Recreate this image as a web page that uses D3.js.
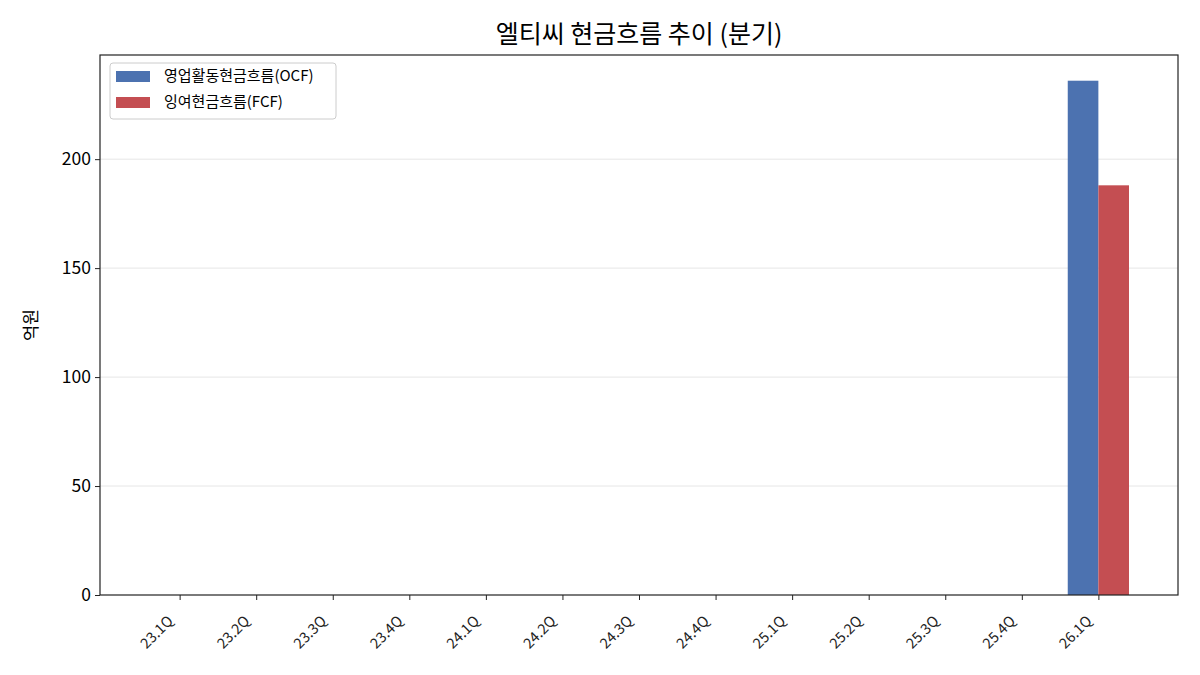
<!DOCTYPE html>
<html>
<head>
<meta charset="utf-8">
<script src="https://cdn.jsdelivr.net/npm/d3@7"></script>
<style>
  body { margin: 0; background: #fff; }
  text { font-family: "Noto Sans CJK KR", "Noto Sans", sans-serif; }
</style>
</head>
<body>
<svg id="chart" width="1200" height="675"></svg>
<script>
// quarters and cash flows (억원)
var quarters = ["23.1Q","23.2Q","23.3Q","23.4Q","24.1Q","24.2Q","24.3Q","24.4Q","25.1Q","25.2Q","25.3Q","25.4Q","26.1Q"];
var ocf = [0,0,0,0,0,0,0,0,0,0,0,0,236];
var fcf = [0,0,0,0,0,0,0,0,0,0,0,0,188];
var yTicks = [0, 50, 100, 150, 200];
var seriesNames = ["영업활동현금흐름(OCF)", "잉여현금흐름(FCF)"];
var colors = ["#4C72B0", "#C44E52"];

var svg = d3.select("#chart");
var m = {left: 100, right: 1178, top: 55, bottom: 595};

// category index scale, matplotlib-like padding
var x = d3.scaleLinear().domain([-1.04, quarters.length - 1 + 1.04]).range([m.left, m.right]);
var bw = x(0.4) - x(0);
var y = d3.scaleLinear().domain([0, 236 * 1.05]).range([m.bottom, m.top]);

// grid
svg.append("g").selectAll("line").data(yTicks.filter(function(d){ return d > 0; }))
  .enter().append("line")
  .attr("x1", m.left).attr("x2", m.right)
  .attr("y1", function(d){ return y(d); }).attr("y2", function(d){ return y(d); })
  .attr("stroke", "#e6e6e6").attr("stroke-width", 1);

// bars
var g = svg.append("g");
g.selectAll(".ocf").data(ocf).enter().append("rect")
  .attr("x", function(d, i){ return x(i - 0.4); })
  .attr("width", bw)
  .attr("y", function(d){ return y(d); })
  .attr("height", function(d){ return y(0) - y(d); })
  .attr("fill", colors[0]);
g.selectAll(".fcf").data(fcf).enter().append("rect")
  .attr("x", function(d, i){ return x(i); })
  .attr("width", bw)
  .attr("y", function(d){ return y(d); })
  .attr("height", function(d){ return y(0) - y(d); })
  .attr("fill", colors[1]);

// axes
var yAxis = svg.append("g").attr("transform", "translate(" + m.left + ",0)")
  .call(d3.axisLeft(y).tickValues(yTicks).tickSize(5).tickPadding(4));
yAxis.selectAll("text").style("font-size", "17.5px").attr("fill", "#000");
yAxis.selectAll("line").attr("stroke", "#222");
yAxis.select(".domain").remove();

var xAxis = svg.append("g").attr("transform", "translate(0," + m.bottom + ")")
  .call(d3.axisBottom(x).tickValues(d3.range(quarters.length)).tickFormat(function(i){ return quarters[i]; }).tickSize(5));
xAxis.select(".domain").remove();
xAxis.selectAll("line").attr("stroke", "#222");
xAxis.selectAll("text")
  .style("font-size", "14.5px")
  .attr("fill", "#222")
  .attr("text-anchor", "end")
  .attr("dy", null)
  .attr("y", 0)
  .attr("transform", "translate(-6,27) rotate(-45)");

// frame
svg.append("rect").attr("x", m.left).attr("y", m.top)
  .attr("width", m.right - m.left).attr("height", m.bottom - m.top)
  .attr("fill", "none").attr("stroke", "#222").attr("stroke-width", 1.2);

// title & y label
svg.append("text").attr("x", (m.left + m.right) / 2).attr("y", 43)
  .attr("text-anchor", "middle").style("font-size", "25px").text("엘티씨 현금흐름 추이 (분기)");
svg.append("text").attr("transform", "translate(37," + ((m.top + m.bottom) / 2) + ") rotate(-90)")
  .attr("text-anchor", "middle").style("font-size", "17.5px").text("억원");

// legend
var lg = svg.append("g").attr("transform", "translate(110,63)");
lg.append("rect").attr("width", 226).attr("height", 56).attr("rx", 3)
  .attr("fill", "#fff").attr("stroke", "#ccc");
seriesNames.forEach(function(name, i) {
  lg.append("rect").attr("x", 6).attr("y", 8 + i * 26).attr("width", 34).attr("height", 11).attr("fill", colors[i]);
  lg.append("text").attr("x", 54).attr("y", 18 + i * 26).style("font-size", "15px").text(name);
});
</script>
</body>
</html>
